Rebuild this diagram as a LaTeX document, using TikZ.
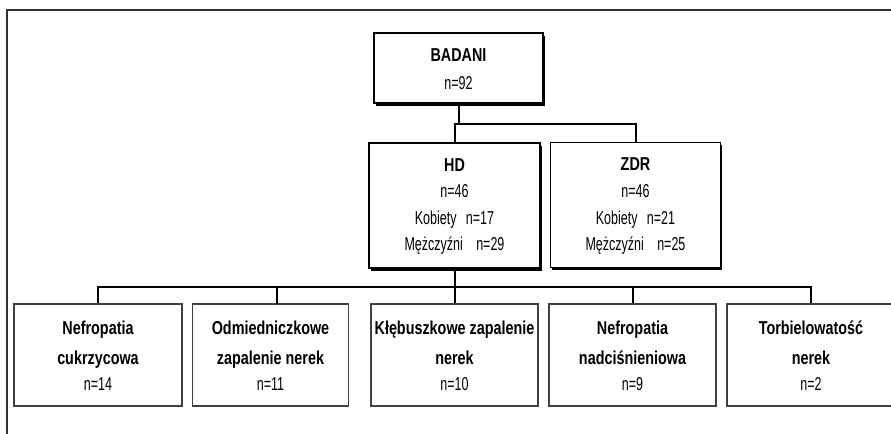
\documentclass[tikz,border=0pt]{standalone}
\usepackage{fontspec}
\setmainfont{Liberation Sans}[FakeStretch=0.67]
\newfontfamily\bfam{Liberation Sans}[FakeStretch=0.77]
\usetikzlibrary{shadows}
\newcommand\pxu{0.75pt}
\tikzset{
  frameline/.style={draw=black!80, line width=1.5pt},
  conn/.style={draw=black, line width=1.5pt},
  topbox/.style={draw=black, line width=1.4pt, fill=white, inner sep=0pt,
    drop shadow={shadow xshift=1.4pt, shadow yshift=-2.2pt, fill=black, opacity=1}},
  lowbox/.style={draw=black!75, line width=1.1pt, fill=white, inner sep=0pt,
    minimum width=168*\pxu, minimum height=102*\pxu},
  txt/.style={anchor=base, inner sep=0pt, font=\fontsize{14}{16}\selectfont},
  btxt/.style={anchor=base, inner sep=0pt, font=\fontsize{14}{16}\bfam\bfseries},
}
\begin{document}
\begin{tikzpicture}[x=0.75pt, y=-0.75pt]
\useasboundingbox (0,0) rectangle (891,434);
\draw[frameline] (7,440) -- (7,10) -- (895,10);

% top level
\node[topbox, minimum width=169*\pxu, minimum height=70*\pxu] (badani) at (458.5,68) {};
\node[btxt] (badaniT) at (458.5,62) {BADANI};
\node[txt] (badaniN) at (458.5,90) {n=92};

% second level
\node[topbox, minimum width=171*\pxu, minimum height=125*\pxu] (hd) at (454.5,205.5) {};
\node[btxt] (hdT) at (454.5,172) {HD};
\node[txt] (hdN) at (454.5,198) {n=46};
\node[txt] (hdK) at (454.5,225) {Kobiety\hspace{7pt}n=17};
\node[txt] (hdM) at (454.5,251) {Mężczyźni\hspace{10pt}n=29};

\node[topbox, minimum width=170*\pxu, minimum height=125*\pxu] (zdr) at (635.5,205) {};
\node[btxt] (zdrT) at (635.5,171) {ZDR};
\node[txt] (zdrN) at (635.5,198) {n=46};
\node[txt] (zdrK) at (635.5,225) {Kobiety\hspace{7pt}n=21};
\node[txt] (zdrM) at (635.5,251) {Mężczyźni\hspace{10pt}n=25};

% third level
\node[lowbox] (b1) at (98,355) {};
\node[lowbox, minimum width=155.5*\pxu] (b2) at (270.5,355) {};
\node[lowbox, minimum width=167*\pxu] (b3) at (454.5,355) {};
\node[lowbox, minimum width=167*\pxu] (b4) at (632.5,355) {};
\node[lowbox] (b5) at (811,355) {};

\node[btxt] (b1a) at (98,334) {Nefropatia};
\node[btxt] (b1b) at (98,364) {cukrzycowa};
\node[txt]  (b1c) at (98,390) {n=14};

\node[btxt] (b2a) at (270.5,334) {Odmiedniczkowe};
\node[btxt] (b2b) at (270.5,364) {zapalenie nerek};
\node[txt]  (b2c) at (270.5,390) {n=11};

\node[btxt] (b3a) at (454.5,334) {Kłębuszkowe zapalenie};
\node[btxt] (b3b) at (454.5,364) {nerek};
\node[txt]  (b3c) at (454.5,390) {n=10};

\node[btxt] (b4a) at (632.5,334) {Nefropatia};
\node[btxt] (b4b) at (632.5,364) {nadciśnieniowa};
\node[txt]  (b4c) at (632.5,390) {n=9};

\node[btxt] (b5a) at (811,334) {Torbielowatość};
\node[btxt] (b5b) at (811,364) {nerek};
\node[txt]  (b5c) at (811,390) {n=2};

% connectors
\coordinate (j1) at (458.5,124);
\draw[conn] (badani.south) -- (j1);
\draw[conn] (hd.north) -- (hd.north |- j1) -- (zdr.north |- j1) -- (zdr.north);

\coordinate (bus) at (454.5,287);
\coordinate (s2) at (277,304);
\draw[conn] (hd.south) -- (hd.south |- bus);
\draw[conn] (b1.north) -- (b1.north |- bus) -- (b5.north |- bus) -- (b5.north);
\draw[conn] (s2 |- bus) -- (s2);
\draw[conn] (b3.north |- bus) -- (b3.north);
\draw[conn] (b4.north |- bus) -- (b4.north);
\end{tikzpicture}
\end{document}
